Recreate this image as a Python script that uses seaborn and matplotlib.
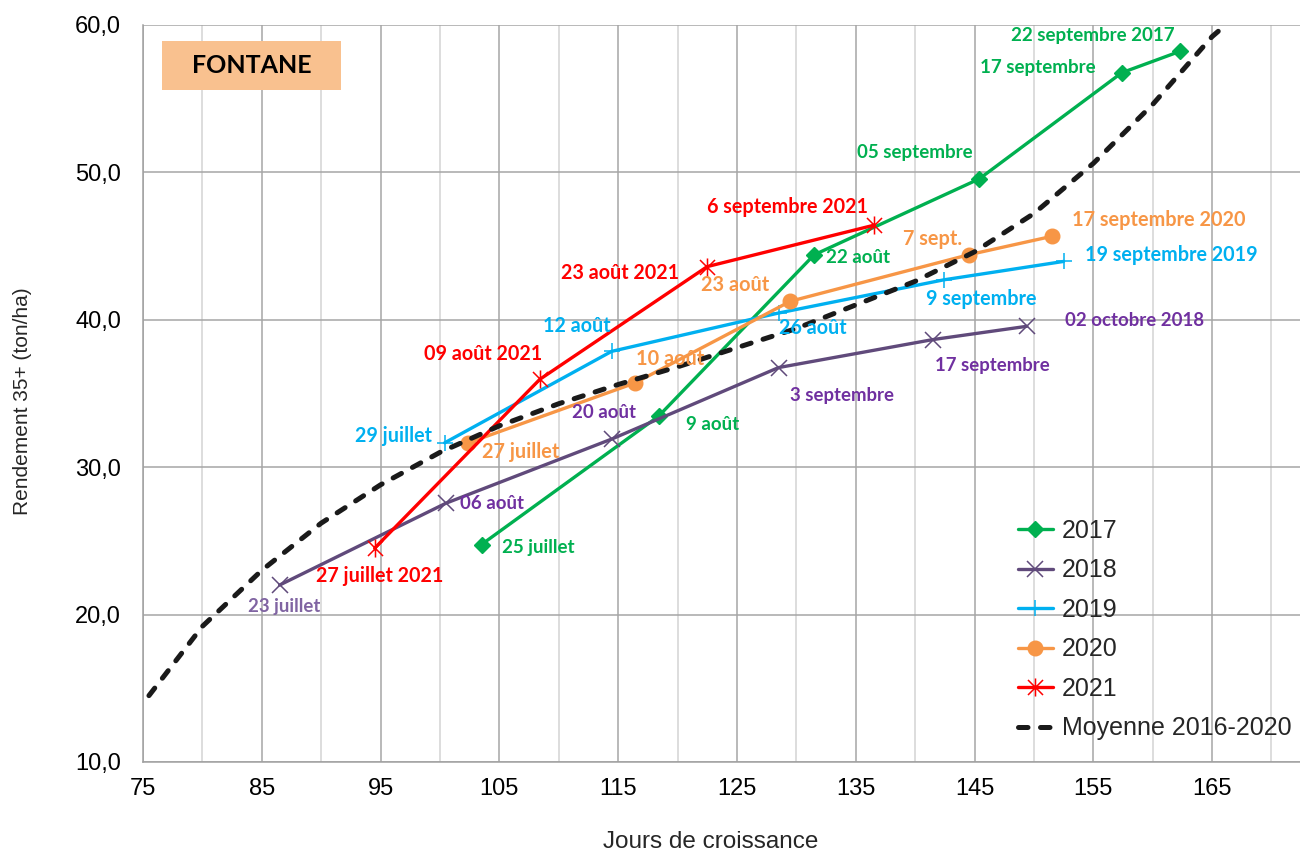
import matplotlib
matplotlib.use('Agg')
import matplotlib.pyplot as plt
import seaborn as sns
from matplotlib.path import Path
from matplotlib.patches import Rectangle
from matplotlib.ticker import FixedLocator

# --- Data ---
days_2017 = [103.5, 118.4, 131.5, 145.4, 157.4, 162.3]
rend_2017 = [24.75, 33.45, 44.4, 49.55, 56.75, 58.2]
labels_2017 = ['25 juillet', '9 août', '22 août', '05 septembre', '17 septembre', '22 septembre 2017']

days_2018 = [86.5, 100.5, 114.45, 128.5, 141.5, 149.4]
rend_2018 = [22.0, 27.55, 31.9, 36.75, 38.65, 39.55]
labels_2018 = ['23 juillet', '06 août', '20 août', '3 septembre', '17 septembre', '02 octobre 2018']

days_2019 = [100.4, 114.45, 128.5, 142.4, 152.5]
rend_2019 = [31.65, 37.85, 40.45, 42.7, 43.95]
labels_2019 = ['29 juillet', '12 août', '26 août', '9 septembre', '19 septembre 2019']

days_2020 = [102.4, 116.4, 129.5, 144.5, 151.5]
rend_2020 = [31.65, 35.7, 41.25, 44.4, 45.65]
labels_2020 = ['27 juillet', '10 août', '23 août', '7 sept.', '17 septembre 2020']

days_2021 = [94.5, 108.4, 122.5, 136.5]
rend_2021 = [24.5, 35.95, 43.6, 46.4]
labels_2021 = ['27 juillet 2021', '09 août 2021', '23 août 2021', '6 septembre 2021']

days_moy = [75.5, 80, 85, 90, 95, 100, 105, 110, 115, 120, 125, 130, 135, 140, 145, 150, 155, 160, 165, 166.3]
rend_moy = [14.5, 19.2, 23.0, 26.2, 28.8, 31.0, 32.8, 34.3, 35.6, 36.8, 38.1, 39.4, 41.0, 42.6, 44.6, 47.2, 50.6, 54.6, 59.2, 60.1]

x_ticks = [75, 85, 95, 105, 115, 125, 135, 145, 155, 165]
x_minor = [80, 90, 100, 110, 120, 130, 140, 150, 160, 170]
y_ticks = [10, 20, 30, 40, 50, 60]
y_tick_labels = ['10,0', '20,0', '30,0', '40,0', '50,0', '60,0']

# --- Style ---
sns.set_theme(style='white')
plt.rcParams['font.family'] = ['Liberation Sans', 'DejaVu Sans']
LABEL_FONT = ['Lato', 'DejaVu Sans']

# Excel-like "star" marker: an X with a vertical bar
star_marker = Path([(-0.5, -0.5), (0.5, 0.5), (-0.5, 0.5), (0.5, -0.5), (0, -0.6), (0, 0.6)],
                   [Path.MOVETO, Path.LINETO, Path.MOVETO, Path.LINETO, Path.MOVETO, Path.LINETO])

# name, days, values, labels, line colour, text colour, marker, size, edge width, face,
# label font size, label offsets (px)
series = [
    ('2017', days_2017, rend_2017, labels_2017, '#00B050', '#00B050', 'D', 8.5, 1.0, '#00B050', 13.5,
     [(57, -3), (54, -8), (44, -3), (-64, 26), (-84, 5), (-87, 16)]),
    ('2018', days_2018, rend_2018, labels_2018, '#604A7B', '#7030A0', 'x', 12, 1.1, 'none', 13.4,
     [(5, -21), (46, 0), (-8, 27), (63, -28), (59, -26), (108, 6)]),
    ('2019', days_2019, rend_2019, labels_2019, '#00B0F0', '#00B0F0', '+', 12, 1.1, 'none', 14.2,
     [(-51, 7), (-35, 25), (34, -15), (38, -19), (108, 6)]),
    ('2020', days_2020, rend_2020, labels_2020, '#F79646', '#F79646', 'o', 10.5, 1.0, '#F79646', 14.3,
     [(52, -9), (35, 24), (-55, 16), (-36, 16), (107, 16)]),
    ('2021', days_2021, rend_2021, labels_2021, '#FF0000', '#FF0000', star_marker, 13, 1.1, 'none', 14.2,
     [(5, -28), (-57, 25), (-87, -6), (-86, 18)]),
]

fig = plt.figure(figsize=(13, 8.55), dpi=100)
ax = fig.add_axes([0.11, 0.1088, 0.89, 0.8622])

for name, xs, ys, labs, col, tcol, mk, ms, mew, fc, fs, offs in series:
    sns.lineplot(x=xs, y=ys, ax=ax, color=col, linewidth=2.4, marker=mk, markersize=ms,
                 markeredgecolor=col, markerfacecolor=fc, markeredgewidth=mew,
                 label=name, sort=False, estimator=None, zorder=3)
    for i, (xv, yv, txt) in enumerate(zip(xs, ys, labs)):
        tc = '#8064A2' if (name == '2018' and i == 0) else tcol
        ax.annotate(txt, (xv, yv), xytext=offs[i], textcoords='offset pixels',
                    ha='center', va='center', color=tc, fontsize=fs,
                    fontweight='bold', family=LABEL_FONT, zorder=5)

sns.lineplot(x=days_moy, y=rend_moy, ax=ax, color='#1A1A1A', linewidth=3.6,
             label='Moyenne 2016-2020', sort=False, estimator=None, zorder=4)
ax.lines[-1].set_dashes((1.9, 2.5))
ax.lines[-1].set_dash_capstyle('round')

# --- Axes ---
ax.set_xlim(75, 172.4)
ax.set_ylim(10, 60)
ax.xaxis.set_major_locator(FixedLocator(x_ticks))
ax.xaxis.set_minor_locator(FixedLocator(x_minor))
ax.set_yticks(y_ticks)
ax.set_yticklabels(y_tick_labels)
ax.grid(which='major', color='#A6A6A6', linewidth=1.1)
ax.grid(which='minor', axis='x', color='#D3D3D3', linewidth=1.1)
ax.set_axisbelow(True)
for side in ['top', 'right']:
    ax.spines[side].set_visible(False)
for side in ['left', 'bottom']:
    ax.spines[side].set_color('#A0A0A0')
    ax.spines[side].set_linewidth(1.1)
ax.tick_params(axis='both', which='major', direction='out', length=5.8, color='#A0A0A0',
               width=1.1, labelsize=17, labelcolor='black')
ax.tick_params(axis='x', which='major', pad=5.5)
ax.tick_params(axis='y', which='major', pad=10)
ax.tick_params(axis='x', which='minor', length=0)

ax.set_xlabel('Jours de croissance', fontsize=17.5)
ax.set_ylabel('Rendement 35+ (ton/ha)', fontsize=15)
ax.xaxis.set_label_coords(0.491, -0.094)
ax.yaxis.set_label_coords(-0.096, 0.49)

# FONTANE tag
ax.add_patch(Rectangle((0.0164, 0.9116), 0.1547, 0.0664, transform=ax.transAxes,
                       facecolor='#F9C18F', edgecolor='none', zorder=6))
ax.text(0.0938, 0.9448, 'FONTANE', transform=ax.transAxes, ha='center', va='center',
        fontsize=18, fontweight='bold', family=LABEL_FONT, color='black', zorder=7)

leg = ax.legend(loc='upper left', bbox_to_anchor=(0.783, 0.393), bbox_transform=fig.transFigure,
                frameon=False, fontsize=18, handlelength=1.4, handletextpad=0.35,
                labelspacing=0.62, borderpad=0, borderaxespad=0)

fig.savefig('out.png', dpi=100)
